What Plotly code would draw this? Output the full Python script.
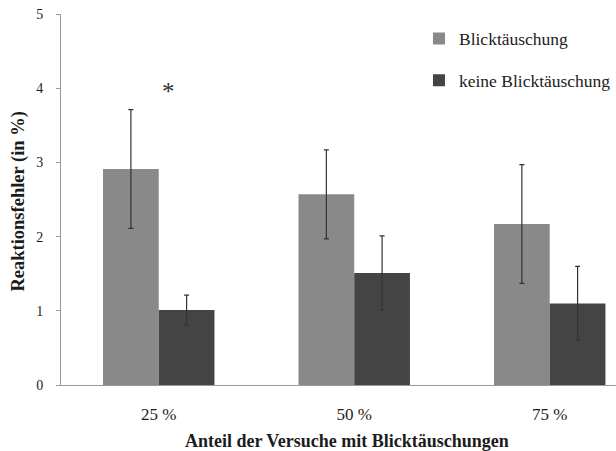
import plotly.graph_objects as go

# Share of trials with gaze illusions (x categories)
categories = ["25 %", "50 %", "75 %"]

# Reaction errors (in %) with error bar half-widths
illusion_mean = [2.91, 2.57, 2.17]
illusion_err = [0.80, 0.60, 0.80]
no_illusion_mean = [1.01, 1.51, 1.10]
no_illusion_err = [0.20, 0.50, 0.50]

series_names = ["Blicktäuschung", "keine Blicktäuschung"]
y_ticks = [0, 1, 2, 3, 4, 5]

serif = "Liberation Serif"
axis_grey = "#9a9a9a"
text_col = "#1c1c1c"

fig = go.Figure()
fig.add_trace(go.Bar(
    x=categories, y=illusion_mean, name=series_names[0], legendgroup="a",
    marker=dict(color="#898989", line=dict(width=0)),
    error_y=dict(type="data", array=illusion_err, color="#333333",
                 thickness=1.2, width=2.5),
))
fig.add_trace(go.Bar(
    x=categories, y=no_illusion_mean, name=series_names[1], legendgroup="b",
    marker=dict(color="#444444", line=dict(width=0)),
    error_y=dict(type="data", array=no_illusion_err, color="#333333",
                 thickness=1.2, width=2.5),
))

# significance marker above the first group
fig.add_annotation(x=0.05, y=3.95, xref="x", yref="y", text="*",
                   showarrow=False, font=dict(family=serif, size=25, color="#333333"),
                   yanchor="middle")

# axis titles
fig.add_annotation(x=0.515, y=-0.151, xref="paper", yref="paper",
                   text="<b>Anteil der Versuche mit Blicktäuschungen</b>",
                   showarrow=False, yanchor="middle",
                   font=dict(family=serif, size=18, color=text_col))
fig.add_annotation(x=-0.077, y=0.495, xref="paper", yref="paper",
                   text="<b>Reaktionsfehler (in %)</b>", textangle=-90,
                   showarrow=False, xanchor="center",
                   font=dict(family=serif, size=18.5, color=text_col))

fig.update_layout(
    width=616, height=451,
    margin=dict(l=61, r=0, t=14, b=66, autoexpand=False),
    paper_bgcolor="white", plot_bgcolor="white",
    barmode="group", bargap=0.43, bargroupgap=0,
    font=dict(family=serif, color=text_col),
    showlegend=True,
    legend=dict(x=0.645, y=0.982, xanchor="left", yanchor="top",
                font=dict(family=serif, size=17.5, color=text_col),
                tracegroupgap=16, bgcolor="rgba(0,0,0,0)"),
)
fig.update_xaxes(
    range=[-0.5, 2.339], showline=True, linecolor=axis_grey, linewidth=1,
    ticks="", showgrid=False, ticklabelstandoff=14,
    tickfont=dict(family=serif, size=17, color=text_col),
)
fig.update_yaxes(
    range=[0, 5], tickvals=y_ticks, showline=True, linecolor=axis_grey,
    linewidth=1, ticks="outside", ticklen=4, tickcolor=axis_grey,
    showgrid=False, zeroline=False, ticklabelstandoff=10,
    tickfont=dict(family=serif, size=14, color=text_col),
)

fig.write_html("out.html")
